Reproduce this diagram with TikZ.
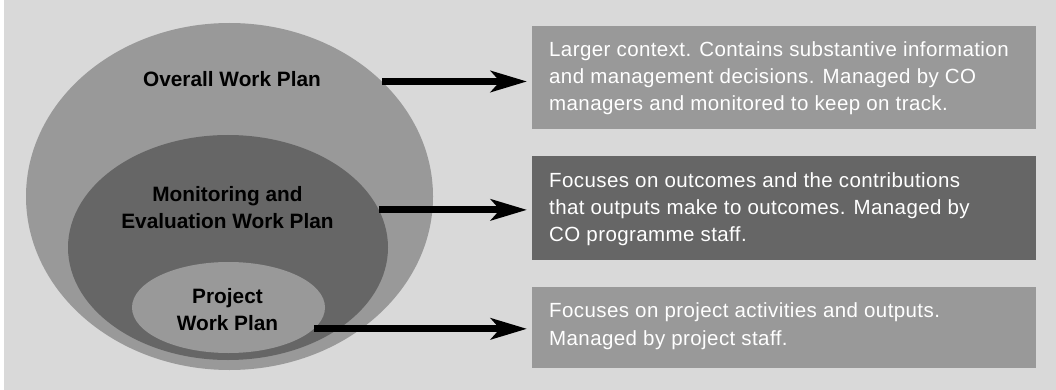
\documentclass[tikz,border=0pt]{standalone}
\usepackage{fontspec}
\setmainfont{Liberation Sans}
\newfontfamily\boxfont{Liberation Sans}[LetterSpace=2]
\usetikzlibrary{shapes}
\usetikzlibrary{arrows.meta}
\definecolor{bggrey}{HTML}{D9D9D9}
\definecolor{lightgrey}{HTML}{999999}
\definecolor{darkgrey}{HTML}{666666}

\begin{document}
\begin{tikzpicture}[x=1pt,y=-1pt]
		\tikzstyle{plan}=[ellipse,inner sep=0pt]
		\tikzstyle{plantext}=[align=center,inner sep=0pt,font=\bfseries\fontsize{20.8}{26.7}\selectfont]
		\tikzstyle{infobox}=[rectangle,anchor=north west,inner sep=0pt,minimum width=504pt]
		\tikzstyle{infotext}=[align=left,anchor=base west,inner sep=0pt,text=white,font=\boxfont\fontsize{20.5}{27.2}\selectfont]
		\tikzstyle{link}=[-{Stealth[length=36pt,width=21pt,inset=9pt]},line width=7pt]
		
		\useasboundingbox (0,0) rectangle (1056,390);
		\fill[bggrey] (4,0) rectangle (1056,390);
		
		% nested plans
		\node[plan,fill=lightgrey,minimum width=407pt,minimum height=347pt](overall) at (229.5,196.5) {};
		\node[plan,fill=darkgrey,minimum width=320pt,minimum height=225pt](monitor) at (228,247.5) {};
		\node[plan,fill=lightgrey,minimum width=193pt,minimum height=91pt](project) at (228.5,307.5) {};
		
		\node[plantext,anchor=base](overallText) at (232,87) {Overall Work Plan};
		\node[plantext,anchor=base](monitorText) at (227.5,228.5) {Monitoring and\\Evaluation Work Plan};
		\node[plantext,anchor=base](projectText) at (227.5,330) {Project\\Work Plan};
		
		% descriptions
		\node[infobox,fill=lightgrey,minimum height=103pt](overallBox) at (532,26) {};
		\node[infobox,fill=darkgrey,minimum height=104pt](monitorBox) at (532,156) {};
		\node[infobox,fill=lightgrey,minimum height=81pt](projectBox) at (532,287) {};
		
		\node[infotext](overallInfo) at (549,111) {Larger context. Contains substantive information\\and management decisions. Managed by CO\\managers and monitored to keep on track.};
		\node[infotext](monitorInfo) at (549,241.5) {Focuses on outcomes and the contributions\\that outputs make to outcomes. Managed by\\CO programme staff.};
		\node[infotext](projectInfo) at (549,345) {Focuses on project activities and outputs.\\Managed by project staff.};
		
		\draw[link] (overall.37.3) -- ([xshift=-5pt]overall.37.3 -| overallBox.west);
		\draw[link] (monitor.14.4) -- ([xshift=-5pt]monitor.14.4 -| monitorBox.west);
		\draw[link] (project.-14.2) -- ([xshift=-5pt]project.-14.2 -| projectBox.west);
		\end{tikzpicture}
\end{document}
